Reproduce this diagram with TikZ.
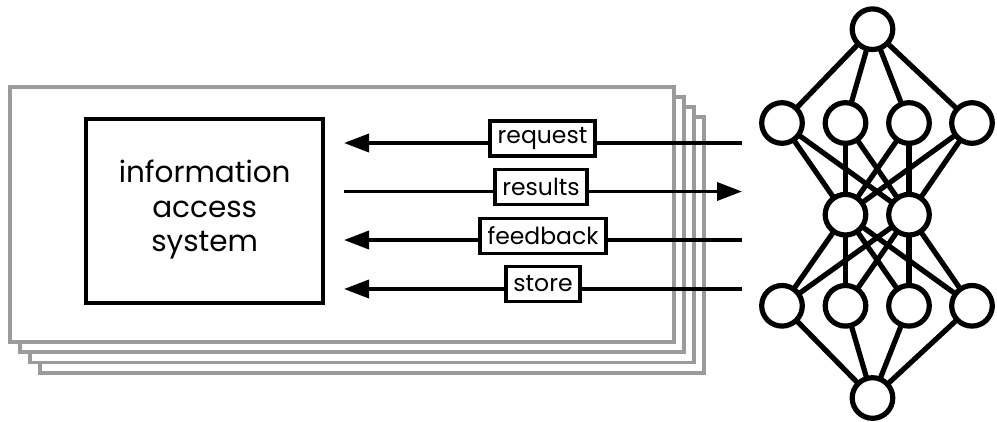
\documentclass[tikz,border=0pt]{standalone}
\usepackage{fontspec}
\setmainfont{Poppins}
\usetikzlibrary{arrows.meta}
\definecolor{stackgray}{RGB}{155,155,155}
\begin{document}
\begin{tikzpicture}[x=1pt,y=-1pt,
  sheet/.style={draw=stackgray,line width=3.4pt,fill=white},
  mainbox/.style={draw=black,line width=3.8pt,fill=white},
  lbl/.style={draw=black,line width=3.6pt,fill=white,font=\fontsize{23.5}{26}\selectfont,
    inner xsep=7.5pt,inner ysep=0pt,minimum height=35pt,anchor=center},
  flow/.style={line width=3.6pt,-{Triangle[length=25pt,width=18pt]}},
  neuron/.style={circle,draw=black,line width=5.2pt,fill=white,minimum size=40.6pt,inner sep=0pt},
  syn/.style={line width=5.2pt}]
\useasboundingbox (0,0) rectangle (997,421);
% stacked sheets
\draw[sheet] (40,117) rectangle (704,373);
\draw[sheet] (30,107) rectangle (694,362.5);
\draw[sheet] (20,97) rectangle (684,352);
\draw[sheet] (10,87) rectangle (674,342);
% main box
\node[mainbox,minimum width=237pt,minimum height=184pt] (ias) at (204.7,211.3) {};
\node[align=center,font=\fontsize{29.5}{34.5}\selectfont] (iastext) at (204.7,210) {information\\access\\system};
% arrow endpoints
\coordinate (l1) at (344,143); \coordinate (r1) at (742,143);
\coordinate (l2) at (344,191.5); \coordinate (r2) at (742,191.5);
\coordinate (l3) at (344,240); \coordinate (r3) at (742,240);
\coordinate (l4) at (344,289); \coordinate (r4) at (742,289);
\draw[flow] (r1) -- (l1);
\draw[flow] (l2) -- (r2);
\draw[flow] (r3) -- (l3);
\draw[flow] (r4) -- (l4);
\node[lbl] (req) at (542.5,138.5) {request};
\node[lbl] (res) at (541,187) {results};
\node[lbl] (fb) at (543,235.8) {feedback};
\node[lbl] (st) at (543,283.8) {store};
% network
\coordinate (pt) at (872.5,29.2);
\coordinate (pa1) at (782,123); \coordinate (pa2) at (845.5,123);
\coordinate (pa3) at (909,123); \coordinate (pa4) at (972,123);
\coordinate (pm1) at (845.5,214.7); \coordinate (pm2) at (909,214.7);
\coordinate (pb1) at (782,305.8); \coordinate (pb2) at (845.5,305.8);
\coordinate (pb3) at (909,305.8); \coordinate (pb4) at (972,305.8);
\coordinate (pz) at (872.5,398);
\foreach \i in {1,2,3,4} {
  \draw[syn] (pt) -- (pa\i);
  \draw[syn] (pz) -- (pb\i);
  \foreach \j in {1,2} {
    \draw[syn] (pa\i) -- (pm\j);
    \draw[syn] (pb\i) -- (pm\j);
  }
}
\node[neuron] (nt) at (pt) {};
\node[neuron] (na1) at (pa1) {}; \node[neuron] (na2) at (pa2) {};
\node[neuron] (na3) at (pa3) {}; \node[neuron] (na4) at (pa4) {};
\node[neuron] (nm1) at (pm1) {}; \node[neuron] (nm2) at (pm2) {};
\node[neuron] (nb1) at (pb1) {}; \node[neuron] (nb2) at (pb2) {};
\node[neuron] (nb3) at (pb3) {}; \node[neuron] (nb4) at (pb4) {};
\node[neuron] (nz) at (pz) {};
\end{tikzpicture}
\end{document}
